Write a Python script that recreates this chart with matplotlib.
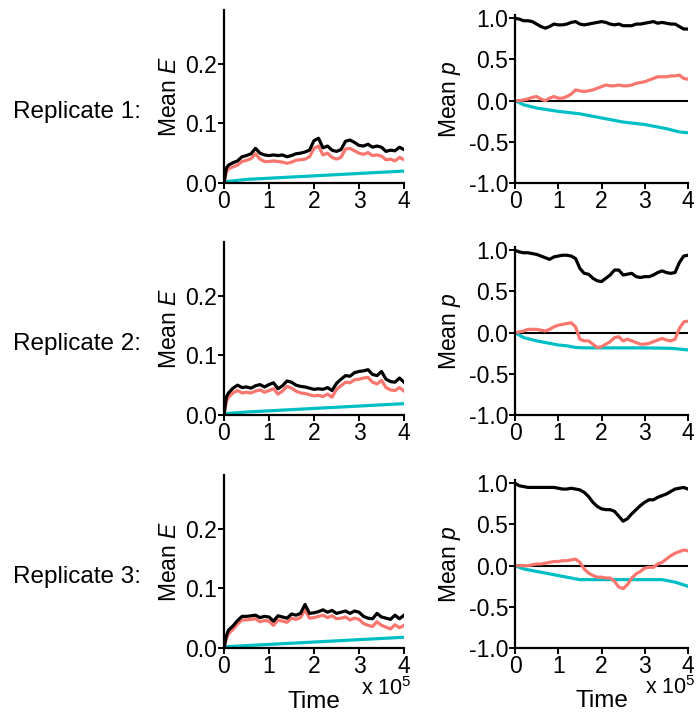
import numpy as np
import matplotlib.pyplot as plt

plt.rcParams['font.family'] = ['Liberation Sans', 'DejaVu Sans']
plt.rcParams['mathtext.fontset'] = 'custom'
plt.rcParams['mathtext.rm'] = 'Liberation Sans'
plt.rcParams['mathtext.it'] = 'Liberation Sans:italic'
plt.rcParams['axes.unicode_minus'] = False

# Time in units of 1e5
t_fine = [0, 0.05] + [round(0.1 * i, 1) for i in range(1, 41)]
t_p = [round(0.1 * i, 1) for i in range(0, 41)]

# ---- Mean E (left column) ----
E_black_1 = [0.0, 0.025, 0.030, 0.034, 0.037, 0.044, 0.046, 0.049, 0.058, 0.050, 0.047,
             0.046, 0.047, 0.046, 0.047, 0.044, 0.046, 0.049, 0.050, 0.052, 0.055,
             0.071, 0.075, 0.059, 0.062, 0.055, 0.053, 0.056, 0.070, 0.072, 0.068,
             0.063, 0.062, 0.065, 0.060, 0.062, 0.060, 0.053, 0.055, 0.054, 0.060, 0.056]
E_red_1 = [0.0, 0.018, 0.024, 0.027, 0.030, 0.036, 0.038, 0.041, 0.049, 0.040, 0.036,
           0.036, 0.037, 0.036, 0.035, 0.033, 0.035, 0.038, 0.039, 0.040, 0.044,
           0.058, 0.062, 0.047, 0.050, 0.043, 0.040, 0.043, 0.057, 0.058, 0.054,
           0.050, 0.048, 0.051, 0.046, 0.047, 0.045, 0.039, 0.040, 0.037, 0.043, 0.039]
E_black_2 = [0.0, 0.030, 0.037, 0.045, 0.050, 0.046, 0.047, 0.045, 0.049, 0.051, 0.047,
             0.051, 0.054, 0.044, 0.049, 0.057, 0.055, 0.050, 0.048, 0.047, 0.045,
             0.043, 0.044, 0.043, 0.046, 0.041, 0.053, 0.060, 0.066, 0.065, 0.071,
             0.073, 0.074, 0.076, 0.068, 0.066, 0.073, 0.060, 0.056, 0.055, 0.062, 0.055]
E_red_2 = [0.0, 0.022, 0.030, 0.037, 0.041, 0.037, 0.038, 0.037, 0.040, 0.042, 0.038,
           0.041, 0.044, 0.035, 0.040, 0.048, 0.045, 0.040, 0.037, 0.036, 0.034,
           0.032, 0.033, 0.031, 0.035, 0.030, 0.043, 0.049, 0.055, 0.054, 0.059,
           0.060, 0.062, 0.063, 0.055, 0.052, 0.058, 0.046, 0.042, 0.041, 0.046, 0.040]
E_black_3 = [0.0, 0.020, 0.030, 0.037, 0.046, 0.053, 0.053, 0.054, 0.055, 0.051, 0.053,
             0.052, 0.045, 0.054, 0.052, 0.050, 0.057, 0.055, 0.058, 0.073, 0.058,
             0.059, 0.061, 0.064, 0.060, 0.063, 0.058, 0.060, 0.062, 0.058, 0.062,
             0.060, 0.053, 0.050, 0.049, 0.058, 0.052, 0.050, 0.048, 0.055, 0.049, 0.055]
E_red_3 = [0.0, 0.015, 0.024, 0.031, 0.040, 0.047, 0.047, 0.048, 0.049, 0.044, 0.046,
           0.045, 0.038, 0.047, 0.045, 0.043, 0.050, 0.048, 0.051, 0.064, 0.050,
           0.051, 0.053, 0.055, 0.051, 0.054, 0.049, 0.050, 0.052, 0.047, 0.050,
           0.048, 0.041, 0.038, 0.036, 0.044, 0.038, 0.035, 0.032, 0.039, 0.034, 0.038]
t_cyan_E = [0, 0.5, 1.0, 1.5, 2.0, 2.5, 3.0, 3.5, 4.0]
E_cyan_1 = [0.002, 0.006, 0.008, 0.010, 0.012, 0.014, 0.016, 0.018, 0.020]
E_cyan_2 = [0.002, 0.005, 0.007, 0.009, 0.011, 0.013, 0.015, 0.017, 0.019]
E_cyan_3 = [0.002, 0.004, 0.006, 0.008, 0.010, 0.012, 0.014, 0.016, 0.018]

# ---- Mean p (right column) ----
p_black_1 = [1.00, 0.99, 0.97, 0.97, 0.96, 0.93, 0.90, 0.88, 0.90, 0.93, 0.92,
             0.92, 0.93, 0.95, 0.96, 0.93, 0.92, 0.93, 0.94, 0.95, 0.96,
             0.95, 0.93, 0.92, 0.93, 0.91, 0.91, 0.91, 0.93, 0.93, 0.94,
             0.95, 0.96, 0.94, 0.95, 0.94, 0.93, 0.93, 0.90, 0.87, 0.87]
p_red_1 = [0.00, 0.00, 0.01, 0.02, 0.04, 0.05, 0.02, 0.00, 0.03, 0.05, 0.03,
           0.03, 0.05, 0.08, 0.13, 0.12, 0.11, 0.12, 0.13, 0.15, 0.17,
           0.19, 0.18, 0.18, 0.19, 0.18, 0.18, 0.19, 0.21, 0.22, 0.23,
           0.25, 0.27, 0.29, 0.29, 0.29, 0.30, 0.30, 0.31, 0.27, 0.26]
t_cyan_p1 = [0, 0.2, 0.5, 0.75, 1.0, 1.5, 2.0, 2.5, 3.0, 3.5, 3.8, 4.0]
p_cyan_1 = [0.0, -0.05, -0.09, -0.11, -0.13, -0.16, -0.21, -0.26, -0.29, -0.34, -0.38, -0.39]

p_black_2 = [1.00, 0.98, 0.97, 0.97, 0.96, 0.95, 0.93, 0.91, 0.89, 0.92, 0.93,
             0.94, 0.94, 0.93, 0.90, 0.78, 0.72, 0.71, 0.66, 0.63, 0.62,
             0.66, 0.70, 0.76, 0.76, 0.70, 0.71, 0.72, 0.68, 0.67, 0.68,
             0.68, 0.70, 0.73, 0.75, 0.73, 0.72, 0.73, 0.85, 0.93, 0.94]
p_red_2 = [0.00, 0.01, 0.02, 0.04, 0.04, 0.04, 0.03, 0.02, 0.04, 0.07, 0.09,
           0.10, 0.11, 0.12, 0.07, -0.08, -0.10, -0.10, -0.14, -0.18, -0.17,
           -0.14, -0.11, -0.06, -0.05, -0.10, -0.08, -0.10, -0.12, -0.14, -0.14,
           -0.13, -0.11, -0.09, -0.07, -0.09, -0.10, -0.08, 0.05, 0.13, 0.14]
t_cyan_p2 = [0, 0.2, 0.5, 0.8, 1.0, 1.2, 1.4, 1.6, 2.0, 3.0, 3.6, 4.0]
p_cyan_2 = [0.0, -0.06, -0.10, -0.13, -0.15, -0.16, -0.18, -0.185, -0.185, -0.185, -0.19, -0.21]

p_black_3 = [1.00, 0.97, 0.96, 0.95, 0.95, 0.95, 0.95, 0.95, 0.95, 0.95, 0.94,
             0.93, 0.93, 0.94, 0.93, 0.92, 0.89, 0.84, 0.77, 0.72, 0.69,
             0.68, 0.68, 0.66, 0.60, 0.54, 0.57, 0.63, 0.68, 0.73, 0.77,
             0.80, 0.80, 0.83, 0.85, 0.87, 0.90, 0.93, 0.94, 0.95, 0.93]
p_red_3 = [0.00, 0.00, 0.00, 0.00, 0.01, 0.02, 0.02, 0.03, 0.04, 0.05, 0.05,
           0.06, 0.06, 0.07, 0.08, 0.04, -0.04, -0.09, -0.12, -0.14, -0.14,
           -0.15, -0.15, -0.19, -0.26, -0.28, -0.23, -0.15, -0.10, -0.07, -0.03,
           -0.02, -0.02, 0.02, 0.04, 0.08, 0.12, 0.15, 0.17, 0.19, 0.18]
t_cyan_p3 = [0, 0.2, 0.5, 0.8, 1.0, 1.2, 1.5, 2.0, 3.0, 3.4, 3.7, 4.0]
p_cyan_3 = [0.0, -0.04, -0.07, -0.10, -0.12, -0.14, -0.17, -0.17, -0.17, -0.17, -0.20, -0.25]

rows = [
    (E_black_1, E_red_1, E_cyan_1, p_black_1, p_red_1, t_cyan_p1, p_cyan_1),
    (E_black_2, E_red_2, E_cyan_2, p_black_2, p_red_2, t_cyan_p2, p_cyan_2),
    (E_black_3, E_red_3, E_cyan_3, p_black_3, p_red_3, t_cyan_p3, p_cyan_3),
]
row_labels = ['Replicate 1:', 'Replicate 2:', 'Replicate 3:']

BLACK = '#000000'
RED = '#F8766D'
CYAN = '#00BFC4'
LW = 2.3
FS = 16.5

W, H = 696, 719
fig = plt.figure(figsize=(W / 100, H / 100), dpi=100)


def style(ax):
    for s in ['top', 'right']:
        ax.spines[s].set_visible(False)
    for s in ['left', 'bottom']:
        ax.spines[s].set_linewidth(1.6)
    ax.tick_params(direction='out', length=4, width=1.4, labelsize=FS, pad=1)
    ax.set_xlim(0, 4)
    ax.set_xticks([0, 1, 2, 3, 4])
    ax.set_xticklabels(['0', '1', '2', '3', '4'])


row_bottoms = [183, 415, 648]
for i, (eb, er, ec, pb, pr, tpc, pc) in enumerate(rows):
    yb = row_bottoms[i]
    axE = fig.add_axes([224 / W, 1 - yb / H, 180 / W, 173 / H])
    axP = fig.add_axes([515 / W, 1 - yb / H, 173 / W, 168 / H])

    axE.plot(t_cyan_E, ec, color=CYAN, lw=LW, solid_capstyle='butt')
    axE.plot(t_fine, er, color=RED, lw=LW)
    axE.plot(t_fine, eb, color=BLACK, lw=LW)
    style(axE)
    axE.set_ylim(0, 0.29)
    axE.set_yticks([0, 0.1, 0.2])
    axE.set_yticklabels(['0.0', '0.1', '0.2'])
    axE.set_ylabel('Mean $\\mathit{E}$', fontsize=FS, labelpad=3)

    axP.axhline(0, color='black', lw=1.5)
    axP.plot(tpc, pc, color=CYAN, lw=LW)
    axP.plot(t_p, pr, color=RED, lw=LW)
    axP.plot(t_p, pb, color=BLACK, lw=LW)
    style(axP)
    axP.set_ylim(-1, 1.04)
    axP.set_yticks([-1, -0.5, 0, 0.5, 1])
    axP.set_yticklabels(['-1.0', '-0.5', '0.0', '0.5', '1.0'])
    axP.set_ylabel('Mean $\\mathit{p}$', fontsize=FS, labelpad=4)

    fig.text(13 / W, 1 - (yb - 71) / H, row_labels[i], fontsize=17.5,
             ha='left', va='center')

    if i == 2:
        for ax in (axE, axP):
            ax.text(1.045, -0.235, 'x 10$^5$', transform=ax.transAxes,
                    fontsize=15.5, ha='right', va='center')
            ax.text(0.5, -0.315, 'Time', transform=ax.transAxes,
                    fontsize=FS + 1, ha='center', va='center')

fig.savefig('out.png', dpi=100)
